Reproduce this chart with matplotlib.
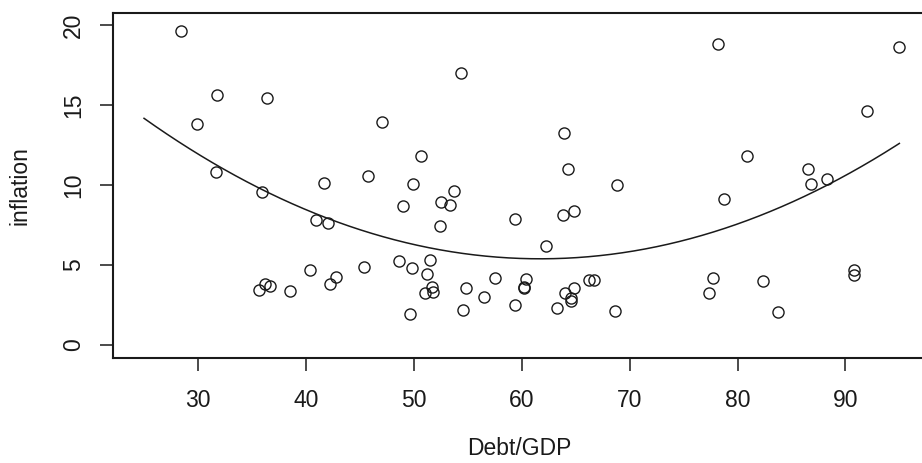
import numpy as np
import matplotlib
matplotlib.use("Agg")
import matplotlib.pyplot as plt

plt.rcParams['font.family'] = ['Liberation Sans', 'DejaVu Sans']

# Debt/GDP vs inflation
debt_gdp = [28.4, 31.76, 36.37, 29.9, 47.03, 31.7, 35.9, 41.65, 45.79,
            54.37, 63.95, 50.7, 64.32, 49.9, 53.76, 68.83,
            78.22, 94.97, 92.0, 80.91, 86.56, 86.81, 88.26, 78.75,
            40.97, 42.02, 40.38, 45.42, 42.76, 42.23, 36.2, 36.67, 35.65, 38.56,
            49.0, 52.52, 53.38, 52.43, 59.38, 63.83, 64.82, 62.22,
            48.6, 49.83, 51.5, 51.22, 51.66, 51.07, 51.81, 49.65, 54.56, 54.87,
            56.54, 57.56, 60.4, 60.21, 60.24, 59.35, 63.24, 63.98, 64.88, 64.54,
            64.6, 66.21, 66.67, 68.65,
            77.7, 77.39, 82.36, 83.73, 90.8, 90.8]
inflation = [19.63, 15.63, 15.42, 13.83, 13.96, 10.81, 9.56, 10.1, 10.58,
             17.02, 13.27, 11.83, 11.0, 10.06, 9.63, 9.98,
             18.81, 18.6, 14.63, 11.81, 11.0, 10.04, 10.38, 9.15,
             7.79, 7.62, 4.69, 4.89, 4.25, 3.81, 3.83, 3.69, 3.46, 3.38,
             8.69, 8.96, 8.77, 7.46, 7.88, 8.13, 8.35, 6.17,
             5.25, 4.79, 5.33, 4.44, 3.63, 3.27, 3.33, 1.94, 2.21, 3.58,
             2.98, 4.17, 4.1, 3.65, 3.58, 2.48, 2.31, 3.27, 3.58, 2.92,
             2.77, 4.04, 4.06, 2.13,
             4.17, 3.25, 4.0, 2.04, 4.69, 4.4]

# quadratic fit coefficients (c0 + c1*x + c2*x^2)
fit_coef = [30.19, -0.8036, 0.00651]
fit_range = [25, 95]

x_ticks = [30, 40, 50, 60, 70, 80, 90]
y_ticks = [0, 5, 10, 15, 20]

ink = '#1a1a1a'

fig = plt.figure(figsize=(9.22, 4.63), dpi=100)
ax = fig.add_axes([0.1231, 0.2274, 0.8802, 0.7452])

ax.plot(debt_gdp, inflation, 'o', markerfacecolor='none', markeredgecolor=ink,
        markersize=8.0, markeredgewidth=1.0, zorder=3)

xs = np.linspace(fit_range[0], fit_range[1], 200)
ys = fit_coef[0] + fit_coef[1] * xs + fit_coef[2] * xs ** 2
ax.plot(xs, ys, color=ink, linewidth=1.1)

ax.set_xlim(22.17, 97.38)
ax.set_ylim(-0.79, 20.77)
ax.set_xticks(x_ticks)
ax.set_yticks(y_ticks)

for s in ax.spines.values():
    s.set_linewidth(1.5)
    s.set_color(ink)

ax.tick_params(axis='both', length=9.5, width=1.1, color=ink, labelsize=16.5,
               labelcolor=ink)
ax.tick_params(axis='x', pad=13)
ax.tick_params(axis='y', pad=11)
for lab in ax.get_yticklabels():
    lab.set_rotation(90)
    lab.set_va('center')

ax.set_xlabel('Debt/GDP', fontsize=16.5, color=ink, labelpad=18)
ax.set_ylabel('inflation', fontsize=16.5, color=ink, labelpad=22)

fig.savefig('out.png', dpi=100)
